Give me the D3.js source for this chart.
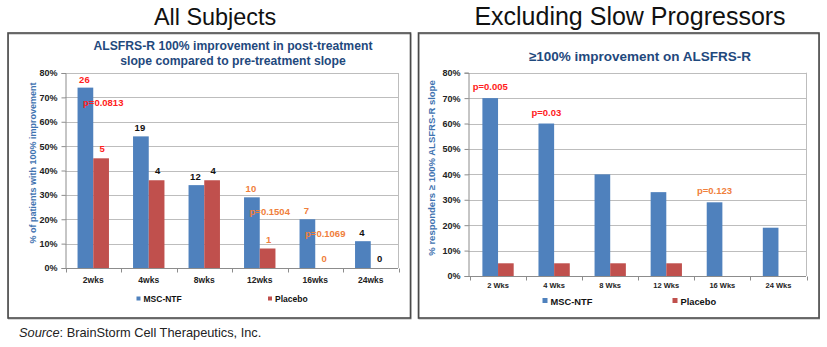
<!DOCTYPE html>
<html>
<head>
<meta charset="utf-8">
<script src="https://cdn.jsdelivr.net/npm/d3@7"></script>
<style>
  html, body { margin: 0; padding: 0; background: #fff; }
  svg { display: block; font-family: "Liberation Sans", Arial, sans-serif; }
</style>
</head>
<body>
<svg id="chart" width="827" height="347"></svg>
<script>
// ---------- DATA ----------
const leftCategories = ["2wks", "4wks", "8wks", "12wks", "16wks", "24wks"];
const leftMSC = [74, 54, 34, 29, 20, 11];
const leftPlacebo = [45, 36, 36, 8, 0, 0];
const leftMSCCounts = ["26", "19", "12", "10", "7", "4"];
const leftPlaceboCounts = ["5", "4", "4", "1", "0", "0"];
const leftPValues = ["p=0.0813", "", "", "p=0.1504", "p=0.1069", ""];

const rightCategories = ["2 Wks", "4 Wks", "8 Wks", "12 Wks", "16 Wks", "24 Wks"];
const rightMSC = [70, 60, 40, 33, 29, 19];
const rightPlacebo = [5, 5, 5, 5, null, null];
const rightPValues = ["p=0.005", "p=0.03", "", "", "p=0.123", ""];

const yTicks = [0, 10, 20, 30, 40, 50, 60, 70, 80];
const seriesNames = ["MSC-NTF", "Placebo"];

// ---------- STYLE ----------
const BLUE = "#4F81BD", RED = "#C0504D";
const TITLE_C = "#1F497D", AXIS_TITLE_C = "#3F73B0";
const LBL_RED = "#FF2020", LBL_ORANGE = "#F0803C", LBL_BLACK = "#111";
const leftLabelColors = [LBL_RED, LBL_BLACK, LBL_BLACK, LBL_ORANGE, LBL_ORANGE, LBL_BLACK];
const leftPColors = [LBL_RED, null, null, LBL_ORANGE, LBL_ORANGE, null];
const rightPColors = [LBL_RED, LBL_RED, null, null, LBL_ORANGE, null];

const svg = d3.select("#chart");
svg.append("rect").attr("width", 827).attr("height", 347).attr("fill", "#fff");

// headings
const headFont = "'Liberation Sans', Arial, sans-serif";
svg.append("text").attr("x", 215).attr("y", 25).attr("text-anchor", "middle")
  .attr("font-family", headFont).attr("font-size", 23.4).attr("fill", "#111").text("All Subjects");
svg.append("text").attr("x", 630).attr("y", 25).attr("text-anchor", "middle")
  .attr("font-family", headFont).attr("font-size", 25).attr("fill", "#111").text("Excluding Slow Progressors");

// boxes
function box(x0, x1) {
  svg.append("rect").attr("x", x0 + 0.5).attr("y", 34).attr("width", x1 - x0).attr("height", 285)
    .attr("fill", "none").attr("stroke", "#B0B0B0").attr("stroke-width", 1);
  svg.append("rect").attr("x", x0).attr("y", 33).attr("width", x1 - x0).attr("height", 285)
    .attr("fill", "none").attr("stroke", "#4A4A4A").attr("stroke-width", 1.6);
}
box(8, 410.5);
box(418.5, 819);

// source
const src = svg.append("text").attr("x", 19).attr("y", 337).attr("font-size", 12.8).attr("fill", "#222");
src.append("tspan").attr("font-style", "italic").text("Source");
src.append("tspan").text(": BrainStorm Cell Therapeutics, Inc.");

function drawChart(cfg) {
  const g = svg.append("g");
  const y = d3.scaleLinear().domain([0, 80]).range([cfg.yBottom, cfg.yTop]);
  const x = d3.scaleBand().domain(cfg.categories).range([cfg.xLeft, cfg.xRight])
    .paddingInner(cfg.pad).paddingOuter(cfg.pad / 2);
  const xs = d3.scaleBand().domain(seriesNames).range([0, x.bandwidth()]);
  const step = x.step();

  // gridlines
  g.append("g").selectAll("line").data(yTicks.filter(t => t > 0)).join("line")
    .attr("x1", cfg.gridLeft).attr("x2", cfg.gridRight)
    .attr("y1", d => Math.round(y(d)) + 0.5).attr("y2", d => Math.round(y(d)) + 0.5)
    .attr("stroke", "#BDBDBD").attr("stroke-width", 1);
  // right border of plot
  g.append("line").attr("x1", cfg.gridRight + 0.5).attr("x2", cfg.gridRight + 0.5)
    .attr("y1", y(80)).attr("y2", y(0)).attr("stroke", "#BDBDBD");

  // y axis
  const yAxis = d3.axisLeft(y).tickValues(yTicks).tickFormat(d => d + "%").tickSize(4).tickPadding(4);
  const ya = g.append("g").attr("transform", `translate(${cfg.gridLeft + 0.5},0)`).call(yAxis);
  ya.select(".domain").attr("stroke", "#8C8C8C");
  ya.selectAll(".tick line").attr("stroke", "#8C8C8C");
  ya.selectAll(".tick text").attr("font-size", cfg.tickSize).attr("font-weight", "bold")
    .attr("fill", "#222").attr("font-family", "'Liberation Sans', Arial, sans-serif");

  // x axis
  const xa = g.append("g").attr("transform", `translate(0,${Math.round(y(0)) + 0.5})`);
  xa.append("line").attr("x1", cfg.gridLeft).attr("x2", cfg.gridRight)
    .attr("stroke", "#8C8C8C");
  const bounds = d3.range(cfg.categories.length + 1).map(i => cfg.xLeft + i * step);
  xa.selectAll(".xt").data(bounds).join("line").attr("class", "xt")
    .attr("x1", d => Math.round(d) + 0.5).attr("x2", d => Math.round(d) + 0.5)
    .attr("y1", 0).attr("y2", 4).attr("stroke", "#8C8C8C");
  xa.selectAll(".xl").data(cfg.categories).join("text").attr("class", "xl")
    .attr("x", d => x(d) + x.bandwidth() / 2).attr("y", cfg.xLabelDy)
    .attr("text-anchor", "middle").attr("font-size", cfg.catSize).attr("font-weight", "bold")
    .attr("fill", "#222").text(d => d);

  // bars
  const rows = cfg.categories.map((c, i) => ({ c, i, msc: cfg.msc[i], pb: cfg.pb[i] }));
  g.append("g").selectAll("rect").data(rows).join("rect")
    .attr("x", d => x(d.c)).attr("width", xs.bandwidth())
    .attr("y", d => y(d.msc)).attr("height", d => y(0) - y(d.msc)).attr("fill", BLUE);
  g.append("g").selectAll("rect").data(rows.filter(d => d.pb != null && d.pb > 0)).join("rect")
    .attr("x", d => x(d.c) + xs("Placebo")).attr("width", xs.bandwidth())
    .attr("y", d => y(d.pb)).attr("height", d => y(0) - y(d.pb)).attr("fill", RED);

  if (cfg.mscCounts) {
    g.append("g").selectAll("text").data(rows).join("text")
      .attr("x", d => x(d.c) + xs.bandwidth() / 2 - 1)
      .attr("y", d => y(d.msc) - 5)
      .attr("text-anchor", "middle").attr("font-size", 9.5).attr("font-weight", "bold")
      .attr("fill", d => cfg.labelColors[d.i]).text(d => cfg.mscCounts[d.i]);
    g.append("g").selectAll("text").data(rows).join("text")
      .attr("x", d => x(d.c) + xs("Placebo") + xs.bandwidth() / 2 + 1)
      .attr("y", d => y(d.pb) - 6)
      .attr("text-anchor", "middle").attr("font-size", 9.5).attr("font-weight", "bold")
      .attr("fill", d => cfg.labelColors[d.i]).text(d => cfg.pbCounts[d.i]);
  }

  // p-values
  g.append("g").selectAll("text").data(rows.filter(d => cfg.pvals[d.i])).join("text")
    .attr("x", d => cfg.pAnchor(x, xs, d))
    .attr("y", d => y(d.msc) + cfg.pDy)
    .attr("text-anchor", "middle").attr("font-size", 9.5).attr("font-weight", "bold")
    .attr("fill", d => cfg.pColors[d.i]).text(d => cfg.pvals[d.i]);

  // titles
  const t = g.append("text").attr("x", cfg.titleX).attr("text-anchor", "middle")
    .attr("font-size", cfg.titleSize).attr("font-weight", "bold").attr("fill", TITLE_C);
  cfg.title.forEach((line, i) => t.append("tspan").attr("x", cfg.titleX).attr("y", cfg.titleY + i * 15).text(line));

  g.append("text").attr("transform", `translate(${cfg.yTitleX},${cfg.yTitleY}) rotate(-90)`)
    .attr("text-anchor", "middle").attr("font-size", cfg.yTitleSize).attr("font-weight", "bold")
    .attr("fill", AXIS_TITLE_C).text(cfg.yTitle);

  // legend
  const lg = g.append("g");
  seriesNames.forEach((s, i) => {
    lg.append("rect").attr("x", cfg.legX[i]).attr("y", cfg.legY - cfg.legSq / 2 - 1)
      .attr("width", cfg.legSq).attr("height", cfg.legSq).attr("fill", i === 0 ? BLUE : RED);
    lg.append("text").attr("x", cfg.legX[i] + cfg.legSq + 3).attr("y", cfg.legY)
      .attr("dy", "0.35em").attr("font-size", cfg.legSize).attr("font-weight", "bold")
      .attr("fill", "#111").text(s);
  });
}

drawChart({
  categories: leftCategories, msc: leftMSC, pb: leftPlacebo,
  mscCounts: leftMSCCounts, pbCounts: leftPlaceboCounts, labelColors: leftLabelColors,
  pvals: leftPValues, pColors: leftPColors,
  pAnchor: (x, xs, d) => x(d.c) + x.bandwidth() / 2 + 10, pDy: 18,
  yBottom: 268, yTop: 73, xLeft: 65.5, xRight: 398.5, gridLeft: 65, gridRight: 398, pad: 0.434,
  tickSize: 9, catSize: 8.5, xLabelDy: 14,
  title: ["ALSFRS-R 100% improvement in post-treatment", "slope compared to pre-treatment slope"],
  titleX: 233, titleY: 50, titleSize: 12.2,
  yTitle: "% of patients with 100% improvement", yTitleX: 36, yTitleY: 163, yTitleSize: 9,
  legX: [136.5, 268], legY: 299.5, legSq: 4, legSize: 8.5
});

drawChart({
  categories: rightCategories, msc: rightMSC, pb: rightPlacebo,
  pvals: rightPValues, pColors: rightPColors,
  pAnchor: (x, xs, d) => x(d.c) + xs.bandwidth() / 2, pDy: -8,
  yBottom: 276, yTop: 72.7, xLeft: 470, xRight: 806.5, gridLeft: 468, gridRight: 806, pad: 0.442,
  tickSize: 9, catSize: 7.5, xLabelDy: 11,
  title: ["≥100% improvement on ALSFRS-R"],
  titleX: 640, titleY: 61, titleSize: 13.5,
  yTitle: "% responders ≥ 100% ALSFRS-R slope", yTitleX: 435, yTitleY: 168, yTitleSize: 9.5,
  legX: [542.5, 672.5], legY: 301.5, legSq: 5, legSize: 9.3
});
</script>
</body>
</html>
